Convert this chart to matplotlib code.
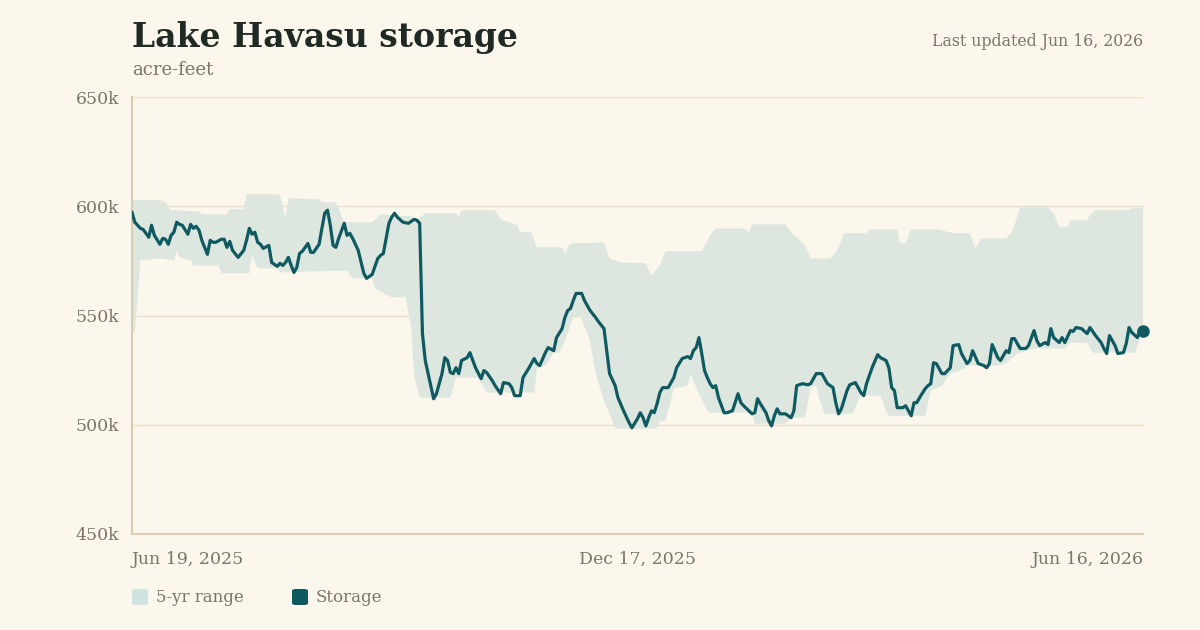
import matplotlib
matplotlib.use("Agg")
import matplotlib.pyplot as plt
import matplotlib.dates as mdates
from matplotlib.patches import FancyBboxPatch
import numpy as np
import pandas as pd

# ---------------- data (thousand acre-feet) ----------------
start_date = "2025-06-19"
tick_dates = ["2025-06-19", "2025-12-17", "2026-06-16"]
tick_labels = ["Jun 19, 2025", "Dec 17, 2025", "Jun 16, 2026"]
y_ticks = [450, 500, 550, 600, 650]
y_tick_labels = ["450k", "500k", "550k", "600k", "650k"]

storage_day = [0, 1, 3, 4, 5, 6, 7, 8, 10, 11, 12, 13, 14, 15, 16, 17, 18, 20, 21, 22, 23, 24, 25, 27, 28, 29,
               30, 32, 33, 34, 35, 36, 38, 40, 41, 42, 43, 44, 45, 46, 47, 49, 50, 52, 53, 54, 55, 56, 57, 58,
               59, 60, 61, 63, 64, 65, 67, 68, 69, 70, 71, 72, 73, 74, 76, 77, 78, 79, 81, 83, 84, 86, 88, 89,
               90, 92, 93, 94, 95, 97, 99, 101, 102, 103, 104, 105, 108, 109, 111, 112, 113, 114, 115, 116,
               117, 118, 120, 121, 123, 125, 126, 127, 129, 130, 132, 133, 135, 136, 137, 139, 140, 142, 144,
               145, 146, 148, 149, 151, 152, 154, 155, 156, 157, 158, 159, 161, 162, 164, 166, 167, 169, 170,
               171, 173, 174, 176, 178, 179, 181, 182, 183, 184, 185, 186, 187, 188, 189, 190, 192, 193, 194,
               195, 197, 199, 200, 201, 202, 203, 204, 205, 206, 207, 208, 209, 210, 212, 213, 215, 217, 218,
               219, 222, 223, 224, 225, 227, 228, 229, 230, 231, 232, 234, 236, 237, 238, 240, 242, 243, 245,
               247, 248, 249, 251, 252, 253, 254, 256, 257, 259, 261, 262, 263, 265, 267, 268, 270, 271, 272,
               273, 274, 276, 277, 278, 279, 280, 281, 282, 284, 285, 286, 287, 288, 290, 291, 293, 294, 296,
               297, 299, 300, 301, 303, 305, 306, 307, 308, 310, 311, 313, 314, 315, 316, 318, 320, 321, 323,
               324, 325, 327, 328, 329, 330, 332, 333, 334, 336, 337, 338, 340, 342, 343, 345, 347, 348, 349,
               350, 352, 353, 355, 356, 357, 358, 360, 361, 362]
storage_kaf = [597.2, 592.7, 589.9, 589.4, 587.6, 585.8, 591.3, 586.7, 582.6, 585.3, 584.9, 582.6, 586.7, 588.1,
               592.7, 591.7, 591.3, 587.2, 591.7, 589.9, 590.8, 589.0, 584.4, 578.0, 584.4, 583.5, 583.5, 584.9,
               584.9, 581.2, 583.9, 579.8, 576.6, 579.8, 584.4, 589.9, 587.2, 588.1, 583.5, 582.6, 580.7, 582.1,
               574.3, 572.5, 573.9, 572.9, 574.3, 576.6, 572.9, 569.7, 572.0, 578.4, 579.4, 583.0, 578.9, 578.9,
               582.6, 589.9, 596.8, 598.2, 591.3, 582.1, 581.2, 585.3, 592.2, 586.7, 587.6, 585.3, 579.8, 569.3,
               567.0, 568.8, 576.1, 577.5, 578.4, 592.2, 595.0, 596.8, 595.0, 592.7, 592.2, 594.0, 593.6, 592.2,
               541.7, 529.4, 511.9, 514.2, 523.4, 530.7, 529.4, 523.9, 523.4, 526.1, 523.4, 529.4, 530.7, 533.0,
               526.1, 521.1, 524.8, 523.9, 520.2, 517.9, 514.2, 519.3, 518.8, 517.0, 513.3, 513.3, 521.6, 525.7,
               530.3, 528.0, 527.1, 533.0, 535.3, 533.9, 539.9, 544.0, 549.1, 552.3, 553.2, 556.9, 560.1, 560.1,
               556.9, 552.3, 549.1, 547.2, 544.0, 533.9, 523.4, 517.9, 512.4, 506.4, 500.9, 498.6, 502.8, 505.5,
               503.2, 499.5, 503.2, 506.4, 505.5, 509.6, 514.7, 517.0, 517.0, 519.3, 521.6, 526.1, 530.3, 531.2,
               530.3, 533.9, 535.3, 539.9, 532.6, 524.8, 521.6, 518.8, 517.0, 517.9, 512.4, 505.5, 505.5, 506.4,
               514.2, 510.1, 508.7, 505.0, 505.5, 511.9, 509.6, 505.5, 501.8, 499.5, 504.1, 507.3, 505.0, 505.0,
               503.2, 506.4, 517.9, 518.8, 518.3, 518.8, 523.4, 523.4, 521.1, 518.8, 517.0, 510.1, 505.0, 507.3,
               515.6, 518.3, 519.3, 514.7, 513.3, 518.8, 526.1, 532.1, 530.7, 529.4, 526.1, 517.0, 515.6, 507.8,
               507.8, 508.7, 506.4, 504.1, 510.1, 510.1, 512.4, 516.5, 517.9, 518.8, 528.4, 528.0, 523.4, 523.4,
               526.1, 536.2, 536.7, 532.6, 528.0, 529.4, 533.9, 528.0, 527.1, 526.1, 528.0, 536.7, 530.7, 529.4,
               533.9, 533.0, 539.4, 539.4, 534.9, 534.9, 536.2, 543.1, 538.5, 536.2, 537.6, 536.7, 544.0, 539.9,
               537.6, 539.9, 537.6, 543.1, 542.7, 544.5, 544.0, 541.7, 544.5, 540.8, 537.6, 534.9, 532.6, 540.8,
               536.2, 532.6, 533.0, 537.2, 544.5, 542.2, 539.9, 544.0, 543.1]

range_high_day = [0, 10, 12, 14, 24, 25, 34, 35, 40, 41, 52, 53, 55, 56, 67, 68, 73, 74, 76, 86, 89, 100, 101,
                  102, 105, 116, 117, 118, 130, 132, 138, 139, 143, 145, 154, 155, 157, 169, 171, 175, 184, 186,
                  189, 191, 204, 207, 209, 219, 221, 222, 234, 236, 238, 241, 243, 250, 252, 253, 255, 263, 264,
                  274, 275, 277, 279, 289, 294, 300, 302, 304, 313, 315, 316, 318, 328, 330, 332, 335, 336, 342,
                  343, 345, 357, 358, 362]
range_high_kaf = [602.8, 602.8, 601.8, 598.2, 597.7, 596.3, 596.3, 598.6, 598.6, 605.5, 605.5, 605.0, 594.5,
                  603.7, 603.2, 601.8, 601.8, 599.1, 592.7, 592.7, 596.3, 595.4, 594.5, 593.6, 596.8, 596.8,
                  595.0, 598.2, 598.2, 594.0, 591.3, 588.1, 588.1, 581.2, 581.2, 578.4, 583.0, 583.5, 576.1,
                  574.3, 573.9, 568.3, 572.9, 579.4, 579.4, 586.7, 589.9, 589.9, 588.1, 591.7, 591.7, 588.1,
                  585.8, 582.1, 576.1, 576.1, 578.9, 581.2, 587.6, 587.6, 589.4, 589.4, 583.0, 583.0, 589.4,
                  589.4, 587.6, 587.6, 580.7, 585.3, 585.3, 588.1, 591.3, 599.5, 599.5, 596.8, 590.4, 590.4,
                  593.6, 593.6, 595.9, 598.2, 598.2, 599.1, 599.1]

range_low_day = [0, 1, 3, 10, 15, 16, 17, 21, 22, 31, 32, 42, 43, 45, 52, 53, 64, 77, 79, 86, 87, 93, 98, 100,
                 101, 103, 114, 116, 124, 127, 144, 145, 148, 151, 153, 155, 158, 160, 161, 164, 166, 169, 172,
                 173, 188, 189, 191, 194, 199, 200, 202, 206, 207, 222, 223, 234, 236, 241, 243, 245, 246, 248,
                 258, 261, 268, 270, 271, 284, 286, 290, 293, 298, 299, 310, 313, 317, 323, 334, 336, 342, 344,
                 359, 361, 362]
range_low_kaf = [542.2, 542.2, 575.2, 576.1, 575.2, 579.8, 576.6, 575.2, 572.9, 572.9, 569.3, 569.3, 577.5,
                 571.6, 571.6, 569.7, 570.2, 570.6, 567.0, 567.0, 562.4, 558.3, 558.3, 544.0, 522.5, 512.4,
                 512.4, 521.6, 521.6, 514.7, 514.7, 525.7, 527.1, 533.0, 533.0, 538.5, 549.1, 550.0, 548.2,
                 538.5, 523.4, 511.0, 501.8, 498.2, 498.2, 501.8, 501.8, 516.5, 517.9, 523.4, 517.0, 506.4,
                 505.5, 505.5, 500.5, 500.5, 503.2, 503.2, 517.0, 517.9, 511.9, 505.0, 505.0, 513.3, 513.3,
                 506.4, 504.1, 504.1, 515.6, 517.9, 523.4, 525.7, 527.1, 527.1, 528.0, 532.6, 534.9, 534.9,
                 537.6, 537.6, 533.0, 533.0, 539.4, 544.0]

# ---------------- style ----------------
BG = "#fbf7ec"
BAND = "#dde7df"
BAND_SWATCH = "#cfe3df"
LINE = "#0f5a61"
GRID = "#ebdfca"
AXIS = "#d9ccb0"
MUTED = "#7d7565"
TITLE = "#1f2a25"
FONT = ["DejaVu Serif"]

t0 = pd.Timestamp(start_date)
def to_dates(days):
    return t0 + pd.to_timedelta(np.asarray(days, dtype=float), unit="D")

s_dates = to_dates(storage_day)
hi_dates = to_dates(range_high_day)
lo_dates = to_dates(range_low_day)

fig = plt.figure(figsize=(12, 6.3), dpi=100, facecolor=BG)
ax = fig.add_axes([0.11, 1 - 534 / 630, (1143 - 132) / 1200, (534 - 97) / 630])
ax.set_facecolor(BG)

# band as polygon: upper edge forward, lower edge backward
poly_x = np.concatenate([mdates.date2num(hi_dates), mdates.date2num(lo_dates)[::-1]])
poly_y = np.concatenate([np.asarray(range_high_kaf), np.asarray(range_low_kaf)[::-1]])
ax.fill(poly_x, poly_y, color=BAND, lw=0, zorder=1)

ax.plot(s_dates, storage_kaf, color=LINE, lw=2.3, solid_joinstyle="round", zorder=3)
ax.plot([s_dates[-1]], [storage_kaf[-1]], "o", color=LINE, ms=8, zorder=4, clip_on=False)

ax.set_xlim(mdates.date2num(to_dates([0]))[0], mdates.date2num(to_dates([362]))[0])
ax.set_ylim(450, 650)

for v in y_ticks[1:]:
    ax.axhline(v, color=GRID, lw=1, zorder=0)

for side in ["top", "right"]:
    ax.spines[side].set_visible(False)
for side in ["left", "bottom"]:
    ax.spines[side].set_color(AXIS)
    ax.spines[side].set_linewidth(1.5)

ax.set_yticks(y_ticks)
ax.set_yticklabels(y_tick_labels)
ax.tick_params(axis="y", length=0, pad=9, labelsize=12.5, labelcolor=MUTED)
for lab in ax.get_yticklabels():
    lab.set_fontfamily(FONT)

ax.set_xticks(mdates.date2num(pd.to_datetime(tick_dates)))
ax.set_xticklabels(tick_labels)
ax.tick_params(axis="x", length=0, pad=12, labelsize=12.5, labelcolor=MUTED)
xl = ax.get_xticklabels()
for lab, ha in zip(xl, ["left", "center", "right"]):
    lab.set_ha(ha)
    lab.set_fontfamily(FONT)

# titles
fig.text(132 / 1200, 1 - 47 / 630, "Lake Havasu storage", fontsize=23.8, fontweight="bold",
         color=TITLE, family=FONT, va="baseline", ha="left")
fig.text(132 / 1200, 1 - 75 / 630, "acre-feet", fontsize=13, color=MUTED, family=FONT,
         va="baseline", ha="left")
fig.text(1143 / 1200, 1 - 46 / 630, "Last updated Jun 16, 2026", fontsize=11.3, color=MUTED,
         family=FONT, va="baseline", ha="right")

# legend
def swatch(x_px, color):
    w, h = 16 / 1200, 16 / 630
    p = FancyBboxPatch((x_px / 1200, 1 - 605 / 630), w, h,
                       boxstyle="round,pad=0,rounding_size=0.003",
                       transform=fig.transFigure, facecolor=color, edgecolor="none")
    fig.add_artist(p)

swatch(132, BAND_SWATCH)
fig.text(156 / 1200, 1 - 597 / 630, "5-yr range", fontsize=12, color=MUTED, family=FONT,
         va="center", ha="left")
swatch(292, LINE)
fig.text(316 / 1200, 1 - 597 / 630, "Storage", fontsize=12, color=MUTED, family=FONT,
         va="center", ha="left")

fig.savefig("out.png", dpi=100, facecolor=BG)
